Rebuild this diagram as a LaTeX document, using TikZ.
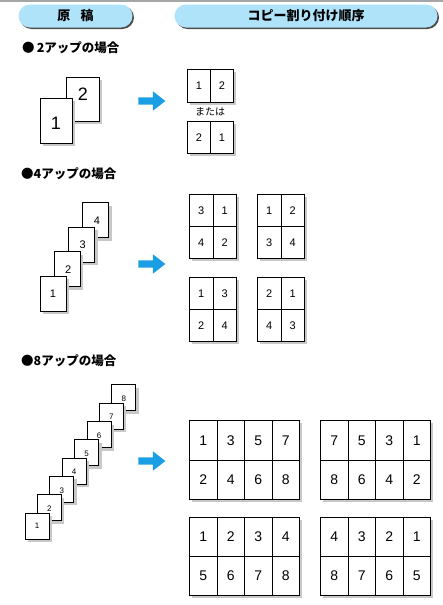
\documentclass[tikz,border=0pt]{standalone}
\usepackage{fontspec}
\setmainfont{Liberation Sans}
\newfontfamily\jp{Noto Sans CJK JP}
\usetikzlibrary{shadows,shapes.arrows}
\definecolor{pillblue}{HTML}{AEE3FA}
\definecolor{arrowblue}{HTML}{1A9FE4}
\definecolor{shadegray}{HTML}{C8C8C8}
\tikzset{
  pill/.style={rectangle, rounded corners=11.5pt, fill=pillblue, inner sep=0pt,
    drop shadow={shadow xshift=1.5pt, shadow yshift=-1.5pt, fill=black!70, opacity=1},
    font=\jp\bfseries\fontsize{13}{13}\selectfont},
  heading/.style={anchor=west, inner sep=0pt, font=\jp\bfseries\fontsize{12.5}{12.5}\selectfont},
  pg/.style={draw, line width=1pt, fill=white, inner sep=0pt,
    drop shadow={shadow xshift=3pt, shadow yshift=-3pt, fill=shadegray, opacity=1}},
  lbl/.style={inner sep=0pt},
  cell/.style={draw, line width=1.1pt, fill=white, inner sep=0pt, anchor=north west},
  gridshade/.style={fill=shadegray},
  bluearrow/.style={single arrow, fill=arrowblue, inner xsep=0pt, inner ysep=3.5pt,
    minimum height=27pt, single arrow head extend=6pt, single arrow tip angle=76},
}
% #1 name, #2 ncols, #3 x, #4 y, #5 cell w, #6 cell h, #7 font size, #8 top row, #9 bottom row
\newcommand\pagegrid[9]{%
  \fill[gridshade] ({#3+3},{#4+3}) rectangle ({#3+3+#2*#5},{#4+3+2*#6});
  \foreach \v [count=\i from 0] in {#8} {
    \node[cell, minimum width=#5pt, minimum height=#6pt, font=\fontsize{#7}{#7}\selectfont]
      (#1-a\i) at ({#3+\i*#5},#4) {\v};
  }
  \foreach \v [count=\i from 0] in {#9} {
    \node[cell, minimum width=#5pt, minimum height=#6pt, font=\fontsize{#7}{#7}\selectfont]
      (#1-b\i) at ({#3+\i*#5},{#4+#6}) {\v};
  }
}
% single row: #1 name, #2 ncols, #3 x, #4 y, #5 cell w, #6 cell h, #7 font size, #8 row
\newcommand\rowgrid[8]{%
  \fill[gridshade] ({#3+3},{#4+3}) rectangle ({#3+3+#2*#5},{#4+3+#6});
  \foreach \v [count=\i from 0] in {#8} {
    \node[cell, minimum width=#5pt, minimum height=#6pt, font=\fontsize{#7}{#7}\selectfont]
      (#1-a\i) at ({#3+\i*#5},#4) {\v};
  }
}
\begin{document}
\begin{tikzpicture}[x=1pt,y=-1pt]
\useasboundingbox (0,0) rectangle (443,605);
\draw[black!35, line width=1.5pt] (0,1) -- (443,1);

% header pills
\node[pill, minimum width=114pt, minimum height=23pt] (h1) at (75.5,16) {原\hspace{0.8em}稿};
\node[pill, minimum width=263pt, minimum height=23pt] (h2) at (306,16) {コピー割り付け順序};

% ---------- 2-up ----------
\node[heading] (t2) at (22,48) {●\,2アップの場合};
\node[pg, minimum width=33pt, minimum height=44pt] (p2b) at (82.5,99) {};
\node[pg, minimum width=32pt, minimum height=45pt] (p2a) at (56,120.5) {};
\node[lbl, font=\fontsize{18}{18}\selectfont] (n2b) at (83,94) {2};
\node[lbl, font=\fontsize{18}{18}\selectfont] (n2a) at (56,123) {1};
\node[bluearrow] (a2) at (149.5,101) {};
\rowgrid{g2a}{2}{187}{69}{23}{33}{11}{1,2}
\node[lbl, font=\jp\fontsize{10}{10}\selectfont] (or) at (210,112) {または};
\rowgrid{g2b}{2}{187}{121}{23}{32}{11}{2,1}

% ---------- 4-up ----------
\node[heading] (t4) at (21,174) {●4アップの場合};
\foreach \k in {4,3,2,1} {
  \node[pg, minimum width=26pt, minimum height=35pt] (p4-\k) at ({53+14.3*(\k-1)},{293.5-24.5*(\k-1)}) {};
}
\node[lbl, font=\fontsize{11}{11}\selectfont] (n4-1) at (53,294) {1};
\foreach \k in {2,3,4} {
  \node[lbl, font=\fontsize{11}{11}\selectfont] (n4-\k) at ({54+14.3*(\k-1)},{276-24.5*(\k-1)+18}) {\k};
}
\node[bluearrow] (a4) at (149.5,264) {};
\pagegrid{g4a}{2}{189}{194}{23.5}{32}{11}{3,1}{4,2}
\pagegrid{g4b}{2}{257}{194}{23.5}{32}{11}{1,2}{3,4}
\pagegrid{g4c}{2}{189}{277}{23.5}{32}{11}{1,3}{2,4}
\pagegrid{g4d}{2}{257}{277}{23.5}{32}{11}{2,1}{4,3}

% ---------- 8-up ----------
\node[heading] (t8) at (21,361) {●8アップの場合};
\foreach \k in {8,7,...,1} {
  \node[pg, minimum width=24pt, minimum height=26pt] (p8-\k) at ({37+12.4*(\k-1)},{526-18.3*(\k-1)}) {};
}
\node[lbl, font=\fontsize{8}{8}\selectfont] (n8-1) at (37,526) {1};
\foreach \k in {2,...,8} {
  \node[lbl, font=\fontsize{8}{8}\selectfont] (n8-\k) at ({37+12.4*(\k-1)},{513-18.3*(\k-1)+14}) {\k};
}
\node[bluearrow] (a8) at (149.5,461) {};
\pagegrid{g8a}{4}{189}{420}{27.5}{39.5}{14}{1,3,5,7}{2,4,6,8}
\pagegrid{g8b}{4}{320}{420}{27.5}{39.5}{14}{7,5,3,1}{8,6,4,2}
\pagegrid{g8c}{4}{189}{517}{27.5}{39}{14}{1,2,3,4}{5,6,7,8}
\pagegrid{g8d}{4}{320}{517}{27.5}{39}{14}{4,3,2,1}{8,7,6,5}
\end{tikzpicture}
\end{document}
